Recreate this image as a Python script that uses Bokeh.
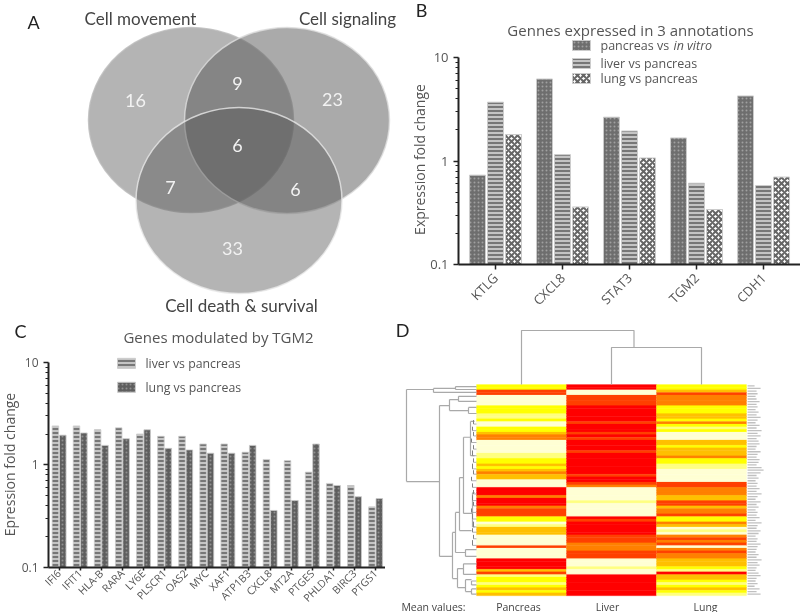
from bokeh.plotting import figure
from bokeh.layouts import row, column
from bokeh.models import (Range1d, Label, FixedTicker, NumeralTickFormatter,
                          LinearColorMapper, ColumnDataSource)
from bokeh.embed import file_html
from bokeh.resources import INLINE

FONT = "Open Sans"
INK = "#555555"
GRID = "#a9a9a9"

# ---- Panel A (Venn) ----
venn_names = ["Cell movement", "Cell signaling", "Cell death & survival"]
venn_cx = [190.5, 286.5, 238.5]
venn_cy = [119.5, 120.0, 200.0]
venn_w = [205, 205, 206]
venn_h = [185, 186, 186]
venn_alpha = [0.44, 0.50, 0.44]
venn_counts = ["16", "9", "23", "6", "7", "6", "33"]
venn_count_x = [135, 237, 332, 237, 170, 295, 232]
venn_count_y = [100, 83, 99, 145, 187, 189, 248]

# ---- Panel B ----
b_genes = ["KTLG", "CXCL8", "STAT3", "TGM2", "CDH1"]
b_pancreas = [0.73, 6.2, 2.65, 1.67, 4.25]
b_liver = [3.7, 1.15, 1.95, 0.61, 0.58]
b_lung = [1.8, 0.36, 1.07, 0.34, 0.70]

# ---- Panel C ----
c_genes = ["IFI6", "IFIT1", "HLA-B", "RARA", "LY6E", "PLSCR1", "OAS2", "MYC", "XAF1",
           "ATP1B3", "CXCL8", "MT2A", "PTGES", "PHLDA1", "BIRC3", "PTGS1"]
c_liver = [2.4, 2.4, 2.2, 2.3, 2.0, 1.9, 1.9, 1.6, 1.6, 1.33, 1.13, 1.1, 0.85, 0.66, 0.63, 0.39]
c_lung = [1.95, 2.05, 1.55, 1.8, 2.2, 1.45, 1.4, 1.3, 1.3, 1.55, 0.36, 0.45, 1.6, 0.63, 0.49, 0.47]

y_major = [0.1, 1, 10]
y_minor = [0.2, 0.3, 0.4, 0.5, 0.6, 0.7, 0.8, 0.9, 2, 3, 4, 5, 6, 7, 8, 9]

# ---- Panel D (heat map levels per row, 0 = low ... 6 = high) ----
heat_columns = ["Pancreas", "Liver", "Lung"]
heat_palette = ["#ffffd4", "#ffff80", "#ffff00", "#ffc000", "#ff8000", "#ff4000", "#ff0000"]
heat_pancreas = [2, 2, 5, 5, 0, 0, 0, 0, 2, 2, 2, 1, 1, 2, 0, 0, 2, 2, 3, 4,
                 4, 0, 0, 0, 0, 0, 1, 1, 2, 2, 3, 2, 3, 4, 3, 3, 0, 0, 0, 6,
                 6, 6, 4, 6, 6, 6, 4, 5, 5, 5, 2, 2, 0, 1, 3, 3, 3, 0, 0, 0,
                 0, 5, 0, 0, 0, 0, 6, 6, 6, 6, 3, 5, 1, 2, 2, 1, 2, 3, 2, 3]
heat_liver = [6, 6, 0, 0, 5, 5, 5, 5, 6, 6, 6, 6, 6, 6, 5, 6, 6, 6, 5, 6,
              5, 6, 6, 6, 6, 5, 6, 6, 6, 6, 6, 6, 6, 6, 5, 6, 6, 5, 4, 0,
              0, 0, 0, 0, 1, 0, 0, 0, 0, 0, 6, 5, 6, 6, 6, 6, 6, 5, 5, 5,
              4, 4, 4, 5, 5, 5, 0, 0, 0, 1, 0, 0, 6, 6, 6, 6, 6, 6, 6, 6]
heat_lung = [2, 2, 3, 5, 4, 4, 4, 4, 2, 2, 2, 3, 3, 2, 4, 2, 1, 2, 0, 0,
             0, 3, 3, 2, 3, 3, 3, 4, 2, 2, 1, 1, 0, 0, 0, 0, 0, 5, 5, 4,
             4, 4, 3, 3, 5, 5, 3, 4, 4, 5, 2, 2, 4, 3, 0, 1, 0, 4, 5, 4,
             5, 0, 4, 5, 4, 4, 3, 3, 3, 2, 1, 6, 3, 3, 2, 1, 2, 3, 2, 1]
# illegible row labels: only their lengths can be read
row_label_len = [7, 13, 9, 10, 8, 9, 12, 9, 10, 8, 11, 9, 13, 10, 8, 12, 9, 14, 10, 13,
                 9, 11, 12, 9, 8, 13, 10, 9, 12, 11, 9, 14, 16, 13, 9, 11, 8, 10, 9, 12,
                 9, 14, 10, 8, 13, 9, 11, 8, 10, 9, 12, 8, 14, 10, 9, 13, 11, 8, 10, 9,
                 13, 10, 9, 8, 11, 9, 14, 10, 12, 9, 8, 11, 13, 9, 8, 10, 7, 12, 9, 13]
# dendrogram merges: height, first row, last row, child heights (pixels from heat map / row units)
den_h = [70, 43, 21, 37, 27, 18, 8, 24, 21, 11, 17, 13, 6, 4, 19, 13, 11, 5, 5]
den_r0 = [1.9, 1.5, 0.8, 8.0, 5.7, 4.5, 8.7, 56.1, 48.5, 62.6, 35.3, 20.0, 14.0, 41.0, 69.8, 68.0, 74.0, 74.5, 77.5]
den_r1 = [36.8, 3.0, 1.9, 65.2, 9.9, 6.4, 11.0, 73.6, 63.7, 65.2, 55.4, 48.9, 27.0, 54.0, 77.0, 72.0, 78.5, 76.0, 79.5]
den_ha = [43, 21, 0, 27, 18, 0, 0, 21, 17, 0, 13, 6, 2, 2, 13, 0, 5, 0, 0]
den_hb = [37, 0, 0, 24, 8, 0, 0, 19, 11, 0, 5, 4, 2, 2, 11, 0, 5, 0, 0]
den_fine_r0 = [13.5, 16, 18, 20.5, 23, 25, 28, 30, 32.5, 35, 37.5, 40, 42, 44.5, 47, 49, 52, 54.5, 57, 59]
den_fine_r1 = [15, 17.5, 19.5, 22, 24.5, 27, 29.5, 32, 34, 36.5, 39, 41.5, 44, 46, 48.5, 51, 54, 56, 58.5, 61]
den_fine_h = [3, 4, 3, 5, 3, 4, 3, 4, 3, 5, 4, 3, 4, 3, 5, 4, 3, 4, 3, 4]
top_den_h = [54, 37]
top_den_c0 = [0.5, 1.5]
top_den_c1 = [1.75, 2.5]


def put(p, x, y, s, size, color=INK, align="center", base="middle", angle=0.0, style="normal", font=FONT):
    p.add_layout(Label(x=x, y=y, text=s, text_font=font, text_font_size=f"{size}px", text_color=color,
                       text_align=align, text_baseline=base, angle=angle, text_font_style=style))


# ===== Overlay for texts that lie outside the plot frames of B and C =====
over = figure(width=800, height=612, x_range=Range1d(0, 800), y_range=Range1d(612, 0),
              x_axis_location=None, y_axis_location=None, output_backend="svg", toolbar_location=None,
              min_border=0, outline_line_color=None, background_fill_alpha=0, border_fill_alpha=0,
              styles={"position": "absolute", "left": "0", "top": "0", "filter": "blur(0.5px)"})
over.grid.visible = False
put(over, 421, 9, "B", 18, "#222222", font="Lato")
put(over, 419, 159, "Expression fold change", 14, angle=1.5708)
put(over, 20, 330, "C", 18, "#222222", font="Lato")
put(over, 9, 464, "Epression fold change", 14, angle=1.5708)


# ===== A =====
a = figure(width=400, height=318, x_range=Range1d(0, 400), y_range=Range1d(318, 0),
           x_axis_location=None, y_axis_location=None, frame_align=False,
           output_backend="svg", toolbar_location=None, min_border=0, outline_line_color=None)
a.grid.visible = False
a.ellipse(venn_cx, venn_cy, width=venn_w, height=venn_h, fill_color="#555555", fill_alpha=venn_alpha,
          line_color=["#bbbbbb", "#dddddd", "#e8e8e8"], line_width=1.5, line_alpha=0.8)
put(a, 33, 21, "A", 18, "#222222", font="Lato")
put(a, 140, 18, venn_names[0], 17, "#444444", font="Lato")
put(a, 347, 18, venn_names[1], 17, "#444444", font="Lato")
put(a, 241, 305, venn_names[2], 17, "#444444", font="Lato")
for s, x, y in zip(venn_counts, venn_count_x, venn_count_y):
    put(a, x, y, s, 18, "#f2f2f2", font="Lato")


def log_axes(p):
    p.grid.visible = False
    ax = p.yaxis[0]
    ax.bounds = (0.1, 10)
    ax.ticker = FixedTicker(ticks=y_major, minor_ticks=y_minor)
    ax.formatter = NumeralTickFormatter(format="0.[0]")
    ax.major_label_text_font = FONT
    ax.major_label_text_font_size = "13px"
    ax.major_label_text_color = INK
    for axis in (p.xaxis[0], ax):
        axis.axis_line_color = "#222222"
        axis.axis_line_width = 2
        axis.major_tick_line_color = "#222222"
        axis.major_tick_line_width = 1.5
        axis.major_tick_in = 0
        axis.minor_tick_in = 0
        axis.minor_tick_line_color = "#222222"
        axis.minor_tick_line_width = 1
    ax.major_tick_out = 5
    ax.minor_tick_out = 3
    xa = p.xaxis[0]
    xa.major_tick_out = 5
    xa.minor_tick_out = 0
    xa.minor_tick_line_color = None
    xa.major_label_orientation = 0.785
    xa.major_label_text_font = FONT
    xa.major_label_text_color = INK
    xa.major_label_standoff = 6


# ===== B =====
def bx(px): return (px - 495) / 67
def by(py): return 10 ** (1 - (py - 57) / 103.5)


b = figure(width=400, height=318, y_axis_type="log", x_range=Range1d(bx(458), bx(800)),
           y_range=Range1d(0.1, by(0)), output_backend="svg", toolbar_location=None, frame_align=False,
           min_border_left=58, min_border_right=0, min_border_top=0, min_border_bottom=54,
           outline_line_color=None)
log_axes(b)
b.xaxis[0].ticker = FixedTicker(ticks=list(range(len(b_genes))))
b.xaxis[0].major_label_overrides = {i: g for i, g in enumerate(b_genes)}
b.xaxis[0].major_label_text_font_size = "13px"
idx = list(range(len(b_genes)))
styles = [
    dict(fill_color="#6e6e6e", hatch_pattern="dot", hatch_color="#a0a0a0", hatch_scale=4, hatch_weight=1),
    dict(fill_color="#c4c4c4", hatch_pattern="horizontal_line", hatch_color="#777777", hatch_scale=4, hatch_weight=2),
    dict(fill_color="#ffffff", hatch_pattern="diagonal_cross", hatch_color="#666666", hatch_scale=6, hatch_weight=2),
]
for off, vals, st in zip([-0.269, 0.0, 0.269], [b_pancreas, b_liver, b_lung], styles):
    b.vbar(x=[i + off for i in idx], top=vals, bottom=0.1, width=0.239, line_color="#cccccc", line_width=1, **st)
put(b, bx(630), by(29), "Gennes expressed in 3 annotations", 15)
leg_names = ["pancreas vs ", "liver vs  pancreas", "lung vs pancreas"]
leg_y = [45, 63, 78]
for py, nm, st in zip(leg_y, leg_names, styles):
    b.vbar(x=[bx(581)], top=[by(py - 5)], bottom=[by(py + 5)], width=18 / 67, line_color="#cccccc", line_width=1, **st)
    put(b, bx(600), by(py), nm, 12.5, align="left")
put(b, bx(673), by(45), "in vitro", 12.5, align="left", style="italic")


# ===== C =====
def cx(px): return (px - 58.5) / 21.1
def cy(py): return 10 ** (1 - (py - 44) / 103)   # py measured from the top of this panel


c = figure(width=385, height=294, y_axis_type="log", x_range=Range1d(cx(48), cx(385)),
           y_range=Range1d(0.1, cy(0)), output_backend="svg", toolbar_location=None, frame_align=False,
           min_border_left=48, min_border_right=0, min_border_top=0, min_border_bottom=44,
           outline_line_color=None)
log_axes(c)
c.xaxis[0].ticker = FixedTicker(ticks=list(range(len(c_genes))))
c.xaxis[0].major_label_overrides = {i: g for i, g in enumerate(c_genes)}
c.xaxis[0].major_label_text_font_size = "10.5px"
c.xaxis[0].major_label_standoff = 1
c.yaxis[0].major_label_text_font_size = "12px"
c.xaxis[0].major_tick_out = 3
idx = list(range(len(c_genes)))
c_styles = [styles[1],
            dict(fill_color="#5e5e5e", hatch_pattern="dot", hatch_color="#909090", hatch_scale=4, hatch_weight=1)]
for off, vals, st in zip([-0.17, 0.18], [c_liver, c_lung], c_styles):
    c.vbar(x=[i + off for i in idx], top=vals, bottom=0.1, width=0.31, line_color="#cccccc", line_width=0.8, **st)
put(c, cx(218), cy(19), "Genes modulated by TGM2", 15)
for py, nm, st in zip([45, 69], ["liver vs pancreas", "lung vs pancreas"], c_styles):
    c.vbar(x=[cx(126)], top=[cy(py - 5)], bottom=[cy(py + 5)], width=18 / 21.1, line_color="#cccccc", line_width=1, **st)
    put(c, cx(145), cy(py), nm, 12.3, align="left")


# ===== D =====
COL = 90.0
ROW = 211 / 80
def hx(h): return -h / COL


d = figure(width=415, height=294, x_range=Range1d((385 - 476) / COL, (800 - 476) / COL),
           y_range=Range1d((612 - 384) / ROW, (318 - 384) / ROW), output_backend="svg",
           x_axis_location=None, y_axis_location=None, frame_align=False,
           toolbar_location=None, min_border=0, outline_line_color=None)
d.grid.visible = False
mapper = LinearColorMapper(palette=heat_palette, low=0, high=7)
xs, ys, vs = [], [], []
for j, colvals in enumerate([heat_pancreas, heat_liver, heat_lung]):
    for r, v in enumerate(colvals):
        xs.append(j + 0.5)
        ys.append(r + 0.5)
        vs.append(v)
src = ColumnDataSource(dict(x=xs, y=ys, v=vs))
d.rect("x", "y", width=1, height=1, source=src, dilate=True,
       fill_color={"field": "v", "transform": mapper}, line_color={"field": "v", "transform": mapper}, line_width=0.2)
# row-label traces
d.segment(x0=[3.012] * 80, x1=[3.012 + n / COL for n in row_label_len],
          y0=[r + 0.5 for r in range(80)], y1=[r + 0.5 for r in range(80)],
          line_color="#c0c0c0", line_width=1.3)
# left dendrogram
d.segment(x0=[hx(h) for h in den_h], x1=[hx(h) for h in den_h], y0=den_r0, y1=den_r1, line_color=GRID, line_width=1.2)
d.segment(x0=[hx(h) for h in den_h], x1=[hx(h) for h in den_ha], y0=den_r0, y1=den_r0, line_color=GRID, line_width=1.2)
d.segment(x0=[hx(h) for h in den_h], x1=[hx(h) for h in den_hb], y0=den_r1, y1=den_r1, line_color=GRID, line_width=1.2)
d.segment(x0=[hx(h) for h in den_fine_h], x1=[hx(h) for h in den_fine_h], y0=den_fine_r0, y1=den_fine_r1,
          line_color="#808080", line_width=1)
d.segment(x0=[hx(h) for h in den_fine_h], x1=[0] * 20, y0=den_fine_r1, y1=den_fine_r1, line_color="#9a9a9a", line_width=0.8)
# top dendrogram
for hgt, c0, c1, ha, hb in [(top_den_h[0], top_den_c0[0], top_den_c1[0], 0, top_den_h[1]),
                            (top_den_h[1], top_den_c0[1], top_den_c1[1], 0, 0)]:
    yr = -hgt / ROW
    d.line([c0, c0, c1, c1], [-ha / ROW, yr, yr, -hb / ROW], line_color=GRID, line_width=1.2)
put(d, hx(476 - 402), (329 - 384) / ROW, "D", 18, "#222222", font="Lato")
put(d, (433 - 476) / COL, (606 - 384) / ROW, "Mean values:", 10.5, "#444444")
for nm, px in zip(heat_columns, [518, 607, 705]):
    put(d, (px - 476) / COL, (606 - 384) / ROW, nm, 10.5, "#444444")

page = column(row(a, b, spacing=0), row(c, d, spacing=0), spacing=0,
              styles={"position": "absolute", "left": "0", "top": "0", "filter": "blur(0.5px)"})
open("out.html", "w").write(file_html([page, over], INLINE))
